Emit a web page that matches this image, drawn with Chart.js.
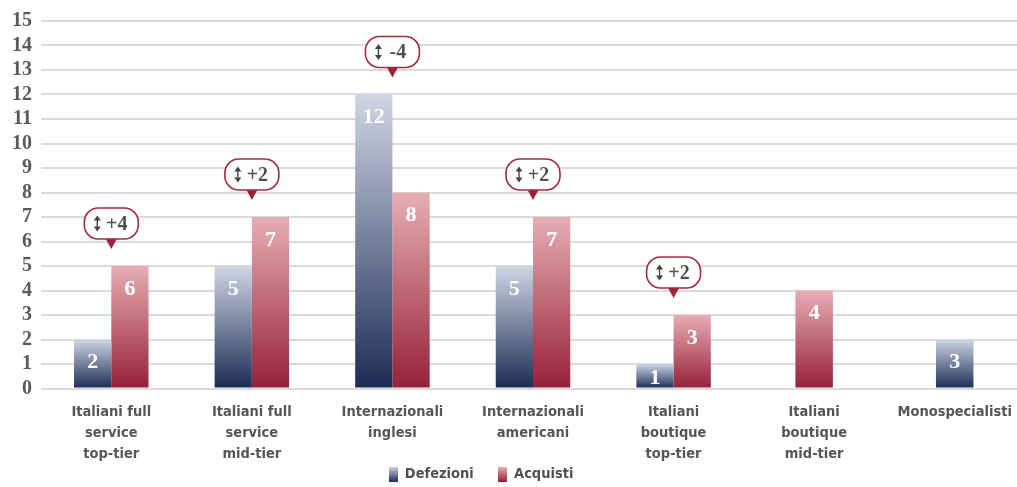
<!DOCTYPE html>
<html><head><meta charset="utf-8">
<script src="https://cdn.jsdelivr.net/npm/chart.js@4.4.1/dist/chart.umd.min.js"></script>
<style>html,body{margin:0;padding:0;background:#fff;overflow:hidden;width:1017px;height:487px}
#wrap{width:1030px;height:487px;position:relative}</style>
</head><body><div id="wrap"><canvas id="c" width="1030" height="487"></canvas></div>
<script>
const categories = [
  ["Italiani full","service","top-tier"],
  ["Italiani full","service","mid-tier"],
  ["Internazionali","inglesi"],
  ["Internazionali","americani"],
  ["Italiani","boutique","top-tier"],
  ["Italiani","boutique","mid-tier"],
  ["Monospecialisti"]
];
const defezioniValues = [2, 5, 12, 5, 1, null, 2];
const acquistiValues  = [5, 7, 8, 7, 3, 4, null];
const defezioniLabels = ["2", "5", "12", "5", "1", null, "3"];
const acquistiLabels  = ["6", "7", "8", "7", "3", "4", null];
const saldoLabels     = ["+4", "+2", "-4", "+2", "+2", null, null];
const seriesNames     = ["Defezioni", "Acquisti"];

const SANS = '"Liberation Sans Narrow", "DejaVu Sans Condensed", "Roboto Condensed", sans-serif';
const SERIF = '"Liberation Serif", "Times New Roman", serif';
const DEF_COLORS = ['#cfd5e3', '#1b2c55'];
const ACQ_COLORS = ['#e6aeb4', '#962039'];
const X_AXIS_HEIGHT = 80;
const LEGEND_CENTER = [493, 474.5];

function barGradient(cols) {
  return (c) => {
    const chart = c.chart;
    if (!chart.chartArea || c.type !== 'data' || c.raw == null) return cols[1];
    const ys = chart.scales.y;
    const yTop = ys.getPixelForValue(c.raw), yBase = ys.getPixelForValue(0);
    if (!isFinite(yTop) || !isFinite(yBase) || yTop === yBase) return cols[1];
    const g = chart.ctx.createLinearGradient(0, yTop, 0, yBase);
    g.addColorStop(0, cols[0]); g.addColorStop(1, cols[1]);
    return g;
  };
}
function swatch(cols) {
  const cv = document.createElement('canvas'); cv.width = 9; cv.height = 15;
  const x = cv.getContext('2d'); const g = x.createLinearGradient(0, 0, 0, 15);
  g.addColorStop(0, cols[0]); g.addColorStop(1, cols[1]);
  x.fillStyle = g; x.fillRect(0, 0, 9, 15); return cv;
}
const swatches = [swatch(DEF_COLORS), swatch(ACQ_COLORS)];

const annot = {
  id: 'annot',
  afterLayout(chart) {
    const lg = chart.legend; if (!lg) return;
    const lo = chart.options.plugins.legend.labels;
    const pad = lo.padding, fs = lo.font.size;
    lg.left = 2 * LEGEND_CENTER[0] - pad - lg.right;
    const h = lg.height;
    lg.top = LEGEND_CENTER[1] - pad - Math.max(fs, lo.boxHeight) / 2;
    lg.bottom = lg.top + h;
  },
  afterDatasetsDraw(chart) {
    const ctx = chart.ctx, xs = chart.scales.x, ys = chart.scales.y;
    ctx.save();
    ctx.font = 'bold 22px ' + SERIF;
    ctx.fillStyle = '#ffffff'; ctx.textAlign = 'center'; ctx.textBaseline = 'middle';
    [[0, defezioniLabels], [1, acquistiLabels]].forEach(([di, labels]) => {
      chart.getDatasetMeta(di).data.forEach((el, i) => {
        if (labels[i] == null || el.y == null || isNaN(el.y)) return;
        const h = el.base - el.y;
        ctx.fillText(labels[i], el.x, el.y + Math.min(22, h * 0.55) + 1);
      });
    });
    saldoLabels.forEach((t, i) => {
      if (!t) return;
      const cx = xs.getPixelForValue(i);
      const topV = Math.max(defezioniValues[i] || 0, acquistiValues[i] || 0);
      const tip = ys.getPixelForValue(topV) - 17;
      const bw = 54, bh = 31, bottom = tip - 10, top = bottom - bh;
      ctx.fillStyle = '#9c2339';
      ctx.beginPath(); ctx.moveTo(cx - 6, bottom - 1); ctx.lineTo(cx + 6, bottom - 1); ctx.lineTo(cx, tip); ctx.closePath(); ctx.fill();
      ctx.beginPath(); ctx.roundRect(cx - bw / 2, top, bw, bh, 14);
      ctx.fillStyle = '#ffffff'; ctx.fill();
      ctx.lineWidth = 1.6; ctx.strokeStyle = '#a12b41'; ctx.stroke();
      const cy = top + bh / 2;
      const ax = cx - 14;
      ctx.strokeStyle = '#454545'; ctx.fillStyle = '#454545'; ctx.lineWidth = 1.4;
      ctx.beginPath(); ctx.moveTo(ax, cy - 4); ctx.lineTo(ax, cy + 4); ctx.stroke();
      ctx.beginPath(); ctx.moveTo(ax, cy - 8); ctx.lineTo(ax - 3.5, cy - 3); ctx.lineTo(ax + 3.5, cy - 3); ctx.closePath(); ctx.fill();
      ctx.beginPath(); ctx.moveTo(ax, cy + 8); ctx.lineTo(ax - 3.5, cy + 3); ctx.lineTo(ax + 3.5, cy + 3); ctx.closePath(); ctx.fill();
      ctx.font = 'bold 20px ' + SERIF; ctx.fillStyle = '#505050';
      ctx.textAlign = 'center'; ctx.textBaseline = 'middle';
      ctx.fillText(t, cx + 5.5, cy + 1);
    });
    ctx.restore();
  }
};

new Chart(document.getElementById('c'), {
  type: 'bar',
  data: {
    labels: categories,
    datasets: [
      { label: seriesNames[0], data: defezioniValues, backgroundColor: barGradient(DEF_COLORS), borderWidth: 0 },
      { label: seriesNames[1], data: acquistiValues, backgroundColor: barGradient(ACQ_COLORS), borderWidth: 0 }
    ]
  },
  options: {
    responsive: false, animation: false, devicePixelRatio: 1,
    skipNull: true,
    categoryPercentage: 0.53, barPercentage: 1.0, maxBarThickness: 37.5,
    layout: { padding: { top: 20, right: 5, left: 0, bottom: -30 } },
    scales: {
      x: {
        afterFit(s) { s.height = X_AXIS_HEIGHT; },
        grid: { display: false }, border: { display: false },
        ticks: { color: '#555555', font: { family: SANS, size: 14.5, weight: 'bold', lineHeight: 1.45 }, padding: 5, maxRotation: 0, autoSkip: false }
      },
      y: {
        min: 0, max: 15,
        afterFit(s) { s.width = 41; },
        grid: { color: '#dadada', lineWidth: 2, drawTicks: false },
        border: { display: false },
        ticks: { stepSize: 1, autoSkip: false, color: '#5a5a5a', font: { family: SERIF, size: 20, weight: 'bold' }, padding: 9 }
      }
    },
    plugins: {
      tooltip: { enabled: false },
      legend: {
        position: 'bottom',
        labels: {
          usePointStyle: true, boxWidth: 9, boxHeight: 15, padding: 24,
          color: '#505050', font: { family: SANS, size: 14.5, weight: 'bold' },
          generateLabels(chart) {
            return seriesNames.map((n, i) => ({ text: n, pointStyle: swatches[i], datasetIndex: i, fontColor: '#505050', lineWidth: 0, hidden: false }));
          }
        }
      }
    }
  },
  plugins: [annot]
});
</script></body></html>
